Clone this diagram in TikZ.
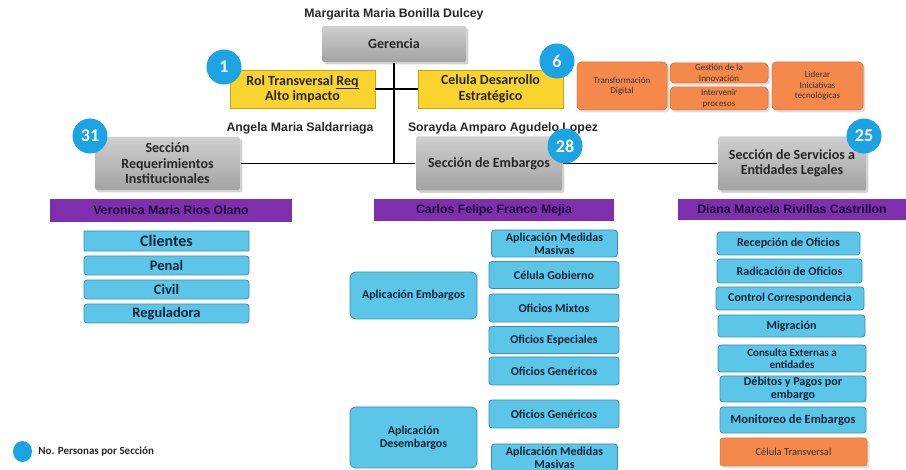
\documentclass[tikz,border=0pt]{standalone}
\usepackage{fontspec}
\setmainfont{Carlito}
\newfontfamily\arialfont{Liberation Sans}
\usetikzlibrary{shadows,shapes.geometric}
\definecolor{cirblue}{HTML}{1CA3E3}
\definecolor{boxblue}{HTML}{5BC6E8}
\definecolor{boxline}{HTML}{3B8DB5}
\definecolor{boxtext}{HTML}{0D2238}
\definecolor{ambar}{HTML}{FAD32E}
\definecolor{ambarline}{HTML}{C9A50A}
\definecolor{naranja}{HTML}{F5894C}
\definecolor{naranjaline}{HTML}{D86A2E}
\definecolor{morado}{HTML}{7D2FAE}
\definecolor{moradotext}{HTML}{1E0633}
\begin{document}
\begin{tikzpicture}[x=1pt, y=-1pt,
                    line width=1.8pt,
                    ]
    \tikzstyle{seccion}=[rectangle, rounded corners=1.5pt, top color=gray!38, bottom color=gray!72,
                         drop shadow={opacity=0.35}, inner sep=0pt, align=center,
                         font=\fontsize{14}{15.5}\selectfont\bfseries, text=black!85]
    \tikzstyle{transversal}=[rectangle, fill=ambar, draw=ambarline, line width=0.6pt, inner sep=0pt,
                         align=center, font=\fontsize{14}{15.5}\selectfont\bfseries, text=black!85,
                         minimum width=145pt, minimum height=38pt]
    \tikzstyle{iniciativa}=[rectangle, rounded corners=4pt, fill=naranja, draw=naranjaline, line width=0.5pt,
                         drop shadow={opacity=0.25}, inner sep=0pt, align=center,
                         font=\fontsize{9}{10.5}\selectfont, text=black!80]
    \tikzstyle{equipo}=[rectangle, rounded corners=3pt, fill=boxblue, draw=boxline, line width=0.8pt,
                         inner sep=0pt, align=center, font=\fontsize{12}{13}\selectfont\bfseries, text=boxtext]
    \tikzstyle{lider}=[rectangle, fill=morado, inner sep=0pt, font=\arialfont\fontsize{12.3}{14}\selectfont\bfseries,
                         text=moradotext]
    \tikzstyle{jefe}=[inner sep=0pt, font=\arialfont\fontsize{12.3}{14}\selectfont\bfseries, text=black!85]
    \tikzstyle{conteo}=[circle, fill=cirblue, minimum size=35pt, inner sep=0pt,
                         font=\fontsize{18}{18}\selectfont\bfseries, text=white]

    \useasboundingbox (0,0) rectangle (906,470);

    % direccion
    \node[jefe] (nomger) at (394,14) {Margarita Maria Bonilla Dulcey};
    \node[seccion, minimum width=144pt, minimum height=36pt] (ger) at (394,44) {Gerencia};
    \node[transversal] (rol) at (302.5,89) {Rol Transversal \underline{Req}\\Alto impacto};
    \node[transversal] (cel) at (490.5,89) {Celula Desarrollo\\Estrat\'egico};
    \node[jefe] (nomrol) at (300,128) {Angela Maria Saldarriaga};
    \node[jefe] (nomcel) at (503,128) {Sorayda Amparo Agudelo Lopez};

    \node[iniciativa, minimum width=90pt, minimum height=48pt] (trans) at (622,86) {Transformaci\'on\\Digital};
    \node[iniciativa, minimum width=98pt, minimum height=20pt] (innov) at (719,73) {Gesti\'on de la\\Innovaci\'on};
    \node[iniciativa, minimum width=98pt, minimum height=23pt] (proc) at (719,98.5) {Intervenir\\procesos};
    \node[iniciativa, minimum width=91pt, minimum height=48pt] (tecno) at (817.5,86) {Liderar\\Iniciativas\\tecnol\'ogicas};

    % secciones
    \node[seccion, minimum width=145pt, minimum height=53pt] (req) at (167.5,163.5) {Secci\'on\\Requerimientos\\Institucionales};
    \node[seccion, minimum width=146pt, minimum height=54pt] (emb) at (489,163.5) {Secci\'on de Embargos};
    \node[seccion, minimum width=148pt, minimum height=54pt] (srv) at (792,163.5) {Secci\'on de Servicios a\\Entidades Legales};

    \coordinate (hub) at (ger.south |- req.east);
    \draw (ger.south) -- (hub);
    \draw (rol.east) -- (cel.west);
    \draw (req.east) -- (emb.west);
    \draw (emb.east) -- (srv.west);

    \node[conteo] (n1) at (224,67) {1};
    \node[conteo] (n6) at (557,61) {6};
    \node[conteo] (n31) at (90,136) {31};
    \node[conteo] (n28) at (565,146) {28};
    \node[conteo] (n25) at (864,136) {25};

    \node[lider, minimum width=242pt, minimum height=23pt] (vero) at (171,210.5) {Veronica Maria Rios Olano};
    \node[lider, minimum width=240pt, minimum height=22pt] (carlos) at (494,210) {Carlos Felipe Franco Mejia};
    \node[lider, minimum width=228pt, minimum height=21pt] (diana) at (792,209.5) {Diana Marcela Rivillas Castrillon};

    % requerimientos
    \node[equipo, rounded corners=0.5pt, minimum width=165pt, minimum height=20pt,
          font=\fontsize{16}{17}\selectfont\bfseries] (cli) at (166.5,241) {Clientes};
    \node[equipo, minimum width=165pt, minimum height=19pt, font=\fontsize{14.5}{15}\selectfont\bfseries] (pen) at (166.5,265.5) {Penal};
    \node[equipo, minimum width=165pt, minimum height=19pt, font=\fontsize{14.5}{15}\selectfont\bfseries] (civ) at (166.5,289.5) {Civil};
    \node[equipo, minimum width=165pt, minimum height=19pt, font=\fontsize{14.5}{15}\selectfont\bfseries] (reg) at (166.5,313.5) {Reguladora};

    % embargos
    \node[equipo, rounded corners=6pt, minimum width=127pt, minimum height=47pt] (apemb) at (413.5,295.5) {Aplicaci\'on Embargos};
    \node[equipo, rounded corners=6pt, minimum width=127pt, minimum height=61pt] (apdes) at (413.5,437.5) {Aplicaci\'on\\Desembargos};
    \node[equipo, minimum width=126pt, minimum height=27pt] (masiv) at (554.5,243.5) {Aplicaci\'on Medidas\\Masivas};
    \node[equipo, minimum width=130pt, minimum height=27pt] (gob) at (554,275) {C\'elula Gobierno};
    \node[equipo, minimum width=130pt, minimum height=28pt] (mixt) at (554,308) {Oficios Mixtos};
    \node[equipo, minimum width=130pt, minimum height=27pt] (espec) at (554,340) {Oficios Especiales};
    \node[equipo, minimum width=130pt, minimum height=28pt] (gen) at (554,371) {Oficios Gen\'ericos};
    \node[equipo, minimum width=130pt, minimum height=28pt] (gendes) at (554,414) {Oficios Gen\'ericos};
    \node[equipo, minimum width=126pt, minimum height=27pt] (masivdes) at (554.5,457.5) {Aplicaci\'on Medidas\\Masivas};

    % servicios
    \node[equipo, minimum width=143pt, minimum height=23pt] (recep) at (788.5,243.5) {Recepci\'on de Oficios};
    \node[equipo, minimum width=145pt, minimum height=24pt] (radic) at (789.5,271) {Radicaci\'on de Oficios};
    \node[equipo, minimum width=148pt, minimum height=23pt] (corre) at (790,298.5) {Control Correspondencia};
    \node[equipo, minimum width=147pt, minimum height=22pt] (migra) at (791.5,326) {Migraci\'on};
    \node[equipo, minimum width=148pt, minimum height=27pt,
          font=\fontsize{11}{12.5}\selectfont\bfseries] (consu) at (792,358.5) {Consulta Externas a\\entidades};
    \node[equipo, minimum width=146pt, minimum height=26pt] (debit) at (793,389) {D\'ebitos y Pagos por\\embargo};
    \node[equipo, minimum width=146pt, minimum height=26pt, font=\fontsize{12.5}{13}\selectfont\bfseries] (monit) at (793,420) {Monitoreo de Embargos};
    \node[iniciativa, rounded corners=3pt, minimum width=147pt, minimum height=28pt,
          font=\fontsize{10.5}{12}\selectfont] (celtr) at (793.5,452) {C\'elula Transversal};

    % convencion
    \node[ellipse, fill=cirblue, minimum width=19pt, minimum height=21pt, inner sep=0pt] (simb) at (22.5,451.5) {};
    \node[anchor=west, inner sep=0pt, font=\fontsize{11}{12}\selectfont\bfseries, text=black!85] (conv) at (37.5,452)
          {No. Personas por Secci\'on};
\end{tikzpicture}
\end{document}
